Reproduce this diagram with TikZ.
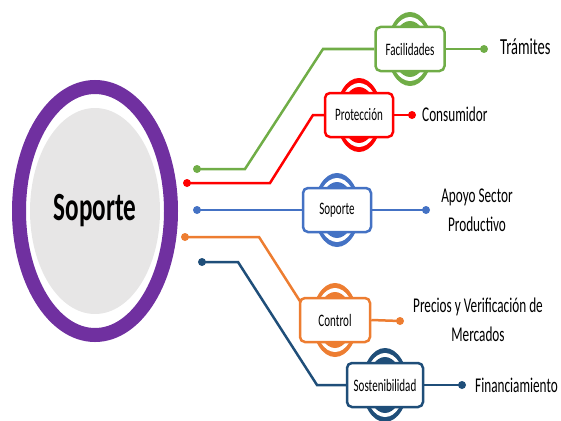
\documentclass[tikz,border=0pt]{standalone}
\usepackage{fontspec}
\setmainfont{Carlito}
\newfontfamily\cond[FakeStretch=0.63]{Carlito}
\usetikzlibrary{shapes.geometric,backgrounds}
\definecolor{cgreen}{HTML}{70AD47}
\definecolor{cred}{HTML}{FF0000}
\definecolor{cblue}{HTML}{4472C4}
\definecolor{corange}{HTML}{ED7D31}
\definecolor{cnavy}{HTML}{1F4E79}
\definecolor{cpurple}{HTML}{7030A0}
\definecolor{cgray}{HTML}{E7E6E6}
\newcommand\badge[5]{%
  \fill[#3] (#2) ellipse [x radius=23pt, y radius=37pt];
  \fill[white] (#2) ellipse [x radius=20pt, y radius=32pt];
  \fill[#3] (#2) ellipse [x radius=17.5pt, y radius=28pt];
  \node[boxst, draw=#3, minimum width=#4pt] (#1) at (#2) {#5};}
\begin{document}
\begin{tikzpicture}[x=1pt,y=-1pt,
  conn/.style={line width=2.5pt},
  dot/.style={circle, inner sep=0pt, minimum size=8pt},
  boxst/.style={fill=white, rounded corners=5pt, line width=2.5pt, minimum height=44pt, inner sep=0pt, font=\cond\fontsize{17.5}{19}\selectfont},
  lbl/.style={font=\cond\fontsize{21}{27}\selectfont, align=center, inner sep=0pt}]
\useasboundingbox (0,0) rectangle (561,420);
% main circle
\draw[cpurple, line width=14pt] (95,211) ellipse [x radius=76pt, y radius=124pt];
\node[ellipse, fill=cgray, minimum width=130pt, minimum height=206pt, inner sep=0pt,
      font=\cond\bfseries\fontsize{40}{44}\selectfont] (main) at (95,211) {Soporte};
% badges
\badge{fac}{410,49}{cgreen}{69}{Facilidades}
\badge{pro}{359,115}{cred}{68}{Protección}
\badge{sop}{337,210}{cblue}{68}{Soporte}
\badge{con}{335,320}{corange}{70}{Control}
\badge{sos}{385,385}{cnavy}{76}{Sostenibilidad}
% dots
\node[dot, fill=cgreen] (gd1) at (197,169) {};
\node[dot, fill=cgreen] (gd2) at (484,49) {};
\node[dot, fill=cred] (rd1) at (187,183) {};
\node[dot, fill=cred] (rd2) at (412,115) {};
\node[dot, fill=cblue] (bd1) at (197,210) {};
\node[dot, fill=cblue] (bd2) at (426,210) {};
\node[dot, fill=corange] (od1) at (185,237) {};
\node[dot, fill=corange] (od2) at (400,321) {};
\node[dot, fill=cnavy] (nd1) at (202,262) {};
\node[dot, fill=cnavy] (nd2) at (462,385) {};
% labels
\node[lbl, anchor=west, font=\cond\fontsize{23}{27}\selectfont] (t1) at (500,47) {Trámites};
\node[lbl, anchor=west] (t2) at (422,114) {Consumidor};
\node[lbl] (t3) at (477,210) {Apoyo Sector\\[2pt]Productivo};
\node[lbl] (t4) at (478,320) {Precios y Verificación de\\[2pt]Mercados};
\node[lbl, anchor=west] (t5) at (475,385) {Financiamiento};
% connectors
\begin{scope}[on background layer]
\draw[conn, cgreen] (gd1.center) -- (245,169) -- (323,49) -- (fac.west);
\draw[conn, cgreen] (fac.east) -- (gd2.center);
\draw[conn, cred] (rd1.center) -- (270,183) -- (313,115) -- (pro.west);
\draw[conn, cred] (pro.east) -- (rd2.center);
\draw[conn, cblue] (bd1.center) -- (sop.west);
\draw[conn, cblue] (sop.east) -- (bd2.center);
\draw[conn, corange] (od1.center) -- (259,237) -- (312,320) -- (con.center);
\draw[conn, corange] (con.east) -- (od2.center);
\draw[conn, cnavy] (nd1.center) -- (238,262) -- (317,385) -- (sos.west);
\draw[conn, cnavy] (sos.east) -- (nd2.center);
\end{scope}
\end{tikzpicture}
\end{document}
